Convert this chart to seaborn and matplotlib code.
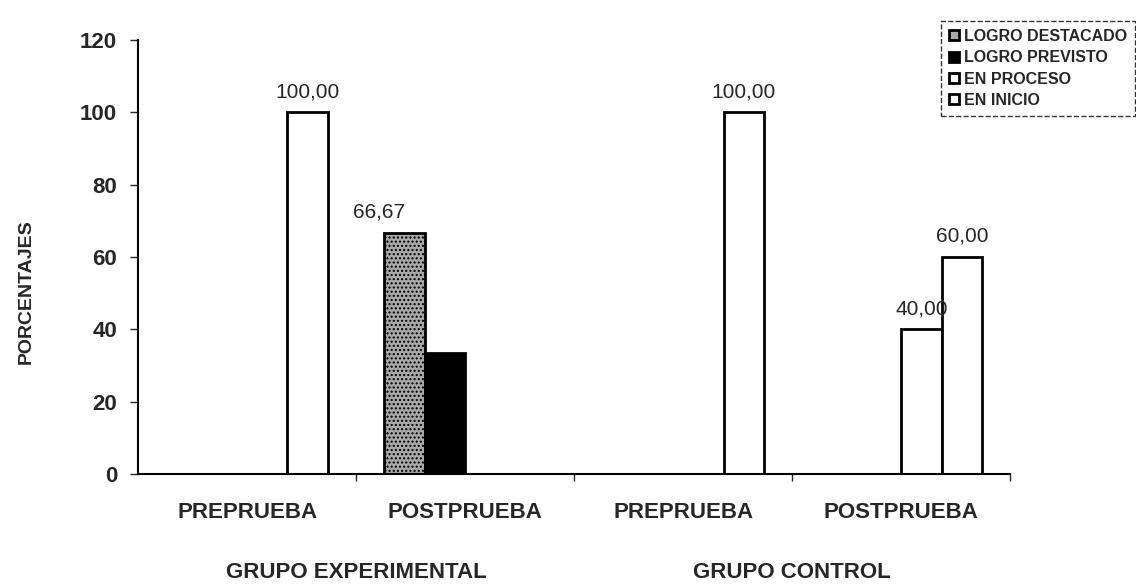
import matplotlib
matplotlib.use("Agg")
import matplotlib.pyplot as plt
import seaborn as sns
import pandas as pd

# Data
niveles = ["LOGRO DESTACADO", "LOGRO PREVISTO", "EN PROCESO", "EN INICIO"]
grupos = ["EXP_PRE", "EXP_POST", "CTL_PRE", "CTL_POST"]
tick_labels = ["PREPRUEBA", "POSTPRUEBA", "PREPRUEBA", "POSTPRUEBA"]
grupo_labels = ["GRUPO EXPERIMENTAL", "GRUPO CONTROL"]
exp_pre = [0, 0, 0, 100]
exp_post = [66.67, 33.33, 0, 0]
ctl_pre = [0, 0, 0, 100]
ctl_post = [0, 0, 40, 60]

rows = []
for g, vals in zip(grupos, [exp_pre, exp_post, ctl_pre, ctl_post]):
    for n, v in zip(niveles, vals):
        rows.append({"grupo": g, "nivel": n, "valor": v})
df = pd.DataFrame(rows)

sns.set_style("white")
plt.rcParams["font.family"] = ["Liberation Sans", "DejaVu Sans"]

fig = plt.figure(figsize=(11.36, 5.86), dpi=100)
ax = fig.add_axes([0.1215, 0.191, 0.768, 0.741])

palette = {"LOGRO DESTACADO": "#a8a8a8", "LOGRO PREVISTO": "black",
           "EN PROCESO": "white", "EN INICIO": "white"}
sns.barplot(data=df, x="grupo", y="valor", hue="nivel", order=grupos,
            hue_order=niveles, palette=palette, width=0.74,
            edgecolor="black", linewidth=2, saturation=1, ax=ax)

# stippled fill for the first series
for p in ax.containers[0]:
    p.set_hatch("....")

# value labels
for cont, n in zip(ax.containers, niveles):
    labels = []
    for p in cont:
        v = p.get_height()
        if v > 0 and n != "LOGRO PREVISTO":
            labels.append(f"{v:.2f}".replace(".", ","))
        else:
            labels.append("")
    txts = ax.bar_label(cont, labels=labels, padding=8, fontsize=15)
    if n == "LOGRO DESTACADO":
        for t in txts:
            t.set_horizontalalignment("right")
            t.set_position((t.get_position()[0] + 0.02, t.get_position()[1]))

ax.set_ylim(0, 120)
ax.set_xlim(-0.5, 3.5)
ax.set_yticks(range(0, 121, 20))
ax.set_xticks(range(4))
ax.set_xticklabels(tick_labels, fontsize=16, fontweight="bold")
ax.set_xticks([0.5, 1.5, 2.5, 3.5], minor=True)
ax.tick_params(axis="x", which="major", length=0, pad=20)
ax.tick_params(axis="x", which="minor", length=5, width=1, direction="out", bottom=True)
ax.tick_params(axis="y", labelsize=16, length=6, width=1, direction="out", left=True, pad=9)
for t in ax.get_yticklabels():
    t.set_fontweight("bold")
ax.set_xlabel("")
ax.set_ylabel("PORCENTAJES", fontsize=14, fontweight="bold")
ax.yaxis.set_label_coords(-0.118, 0.42)

for s in ["top", "right"]:
    ax.spines[s].set_visible(False)
for s in ["left", "bottom"]:
    ax.spines[s].set_color("black")
    ax.spines[s].set_linewidth(1.5)

# second-level category labels, centred under each pair of groups
for xc, lab in zip([0.5, 2.5], grupo_labels):
    ax.text(xc, -0.226, lab, transform=ax.get_xaxis_transform(), ha="center",
            va="center", fontsize=16, fontweight="bold")

sns.move_legend(ax, "upper right", bbox_to_anchor=(1.006, 0.978),
                bbox_transform=fig.transFigure, title=None, frameon=True,
                fontsize=11.5, handlelength=0.6, handleheight=0.6,
                handletextpad=0.3, labelspacing=0.4, borderpad=0.5)
leg = ax.get_legend()
leg.get_frame().set_edgecolor("black")
leg.get_frame().set_linestyle("--")
leg.get_frame().set_linewidth(1)
leg.get_frame().set_boxstyle("square", pad=0)
for t in leg.get_texts():
    t.set_fontweight("bold")

fig.savefig("out.png", dpi=100)
